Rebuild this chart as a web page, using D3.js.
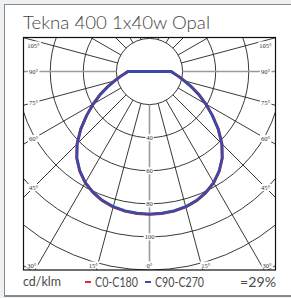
<!DOCTYPE html>
<html>
<head>
<meta charset="utf-8">
<script src="https://cdn.jsdelivr.net/npm/d3@7"></script>
<style>
  html, body { margin: 0; padding: 0; background: #eef1f4; }
  svg { display: block; }
</style>
</head>
<body>
<div id="chart"></div>
<script>
// luminous intensity, cd/klm (gamma from nadir, degrees)
var gammas   = [0, 5, 10, 15, 20, 25, 30, 35, 40, 45, 50, 55, 60, 65, 70, 75, 80, 85, 90, 95, 180];
var c0c180   = [86.4, 86.2, 85.7, 84.8, 83.2, 80.8, 77.7, 73.6, 68.5, 62.0, 54.4, 46.5, 39.4, 33.0, 27.0, 21.9, 18.1, 15.1, 13.1, 0, 0];
var c90c270  = [86.2, 86.0, 85.5, 84.6, 83.0, 80.6, 77.5, 73.4, 68.3, 61.8, 54.2, 46.3, 39.2, 32.8, 26.8, 21.8, 18.0, 15.0, 13.0, 0, 0];

var ringValues  = [20, 40, 60, 80, 100, 120, 140];
var ringLabels  = [40, 60, 80, 100];
var spokeAngles = d3.range(0, 360, 15);
var angleLabels = [0, 15, 30, 45, 60, 75, 90, 105];

var series = [
  { name: "C0-C180",  values: c0c180,  color: "#e3283c" },
  { name: "C90-C270", values: c90c270, color: "#3b4aa5" }
];

var W = 291, H = 298;
var box = { x0: 23.5, x1: 275.5, y0: 37.5, y1: 270 };
var cx = 149.5, cy = 71.5;

var r = d3.scaleLinear().domain([0, 120]).range([0, 198.5]);

var svg = d3.select('#chart')
  .append('svg')
    .attr('width', W)
    .attr('height', H);

// card
svg.append('rect')
  .attr('x', 4.5).attr('y', 4.5)
  .attr('width', 300).attr('height', 291)
  .attr('fill', '#fff')
  .attr('stroke', '#8a8a8a');
svg.append('line')
  .attr('x1', 4).attr('x2', W).attr('y1', 296.5).attr('y2', 296.5)
  .attr('stroke', '#8a8a8a');

svg.append('text')
  .attr('x', 23).attr('y', 29)
  .attr('font-family', 'Lato, "Open Sans", sans-serif')
  .attr('font-size', 17.5)
  .attr('font-weight', 300)
  .attr('fill', '#444')
  .attr('textLength', 187)
  .attr('lengthAdjust', 'spacingAndGlyphs')
  .text('Tekna 400 1x40w Opal');

svg.append('defs')
  .append('clipPath')
    .attr('id', 'plotclip')
    .append('rect')
      .attr('x', box.x0).attr('y', box.y0)
      .attr('width', box.x1 - box.x0).attr('height', box.y1 - box.y0);

var plot = svg.append('g').attr('clip-path', 'url(#plotclip)');
var g = plot.append('g').attr('transform', 'translate(' + cx + ',' + cy + ')');

// rings
g.selectAll('circle.ring')
  .data(ringValues)
  .enter()
    .append('circle')
      .classed('ring', true)
      .attr('r', function (v) { return r(v); })
      .attr('fill', 'none')
      .attr('stroke', '#222')
      .attr('stroke-width', 0.9);

// spokes, starting on the inner ring; 0 and 90 are grey
g.selectAll('line.spoke')
  .data(spokeAngles)
  .enter()
    .append('line')
      .classed('spoke', true)
      .each(function (a) {
        var t = a * Math.PI / 180;
        var grey = (a % 90 === 0);
        d3.select(this)
          .attr('x1', r(20) * Math.sin(t)).attr('y1', r(20) * Math.cos(t))
          .attr('x2', 500 * Math.sin(t)).attr('y2', 500 * Math.cos(t))
          .attr('stroke', grey ? '#9a9a9a' : '#222')
          .attr('stroke-width', grey ? 1.6 : 0.9);
      });

// curves
function pathPoints(vals) {
  var pts = [];
  for (var i = gammas.length - 1; i >= 0; i--) {
    pts.push({ a: Math.PI + gammas[i] * Math.PI / 180, v: vals[i] });
  }
  for (var j = 1; j < gammas.length; j++) {
    pts.push({ a: Math.PI - gammas[j] * Math.PI / 180, v: vals[j] });
  }
  return pts;
}

var radial = d3.lineRadial()
  .angle(function (d) { return d.a; })
  .radius(function (d) { return r(d.v); });

g.selectAll('path.curve')
  .data(series)
  .enter()
    .append('path')
      .classed('curve', true)
      .attr('d', function (s) { return radial(pathPoints(s.values)); })
      .attr('fill', 'none')
      .attr('stroke', function (s) { return s.color; })
      .attr('stroke-width', 2.8)
      .attr('stroke-linejoin', 'round');

// label helper: white box behind small serif text
function smallLabel(parent, x, y, txt) {
  var lg = parent.append('g');
  var t = lg.append('text')
    .attr('x', x).attr('y', y)
    .attr('text-anchor', 'middle')
    .attr('dominant-baseline', 'central')
    .attr('font-family', '"Liberation Serif", "DejaVu Serif", serif')
    .attr('font-size', 6.5)
    .attr('fill', '#333')
    .text(txt);
  var bb = t.node().getBBox();
  lg.insert('rect', 'text')
    .attr('x', bb.x - 1).attr('y', bb.y)
    .attr('width', bb.width + 2).attr('height', bb.height)
    .attr('fill', '#fff');
}

ringLabels.forEach(function (v) {
  smallLabel(g, 0, r(v), String(v));
});

// angle labels near the frame
angleLabels.forEach(function (a) {
  var sides = a === 0 ? [1] : [-1, 1];
  sides.forEach(function (s) {
    var t = a * Math.PI / 180;
    var sx = Math.sin(t), cy_ = Math.cos(t);
    var x, y;
    var tBottom = cy_ > 0 ? (box.y1 - cy) / cy_ : Infinity;
    var tSide = sx > 0 ? (box.x1 - cx) / sx : Infinity;
    if (tBottom < tSide) {
      x = cx + s * (tBottom * sx + (a === 0 ? 0 : 3));
      y = box.y1 - 5;
    } else {
      var dx = (box.x1 - box.x0) / 2 - 10;
      x = cx + s * dx;
      y = Math.max(cy + dx * cy_ / sx, box.y0 + 7.5);
    }
    smallLabel(svg, x, y, a + '\u00b0');
  });
});

// frame
svg.append('rect')
  .attr('x', box.x0).attr('y', box.y0)
  .attr('width', box.x1 - box.x0).attr('height', box.y1 - box.y0)
  .attr('fill', 'none')
  .attr('stroke', '#111')
  .attr('stroke-width', 1.2);

// footer
var foot = svg.append('g')
  .attr('font-family', 'Lato, "Open Sans", sans-serif')
  .attr('font-size', 12.5)
  .attr('fill', '#4a4a4a');

foot.append('text').attr('x', 23).attr('y', 286)
  .attr('textLength', 38).attr('lengthAdjust', 'spacingAndGlyphs')
  .text('cd/klm');

var legX = [85, 145];
var legW = [43, 49];
series.forEach(function (s, i) {
  foot.append('rect')
    .attr('x', legX[i]).attr('y', 281)
    .attr('width', 6).attr('height', 2)
    .attr('fill', s.color);
  foot.append('text')
    .attr('x', legX[i] + 10).attr('y', 286.5)
    .attr('textLength', legW[i]).attr('lengthAdjust', 'spacingAndGlyphs')
    .text(s.name);
});

foot.append('text').attr('x', 240).attr('y', 286.5)
  .attr('font-size', 13.5)
  .attr('textLength', 36).attr('lengthAdjust', 'spacingAndGlyphs')
  .text('=29%');
</script>
</body>
</html>
